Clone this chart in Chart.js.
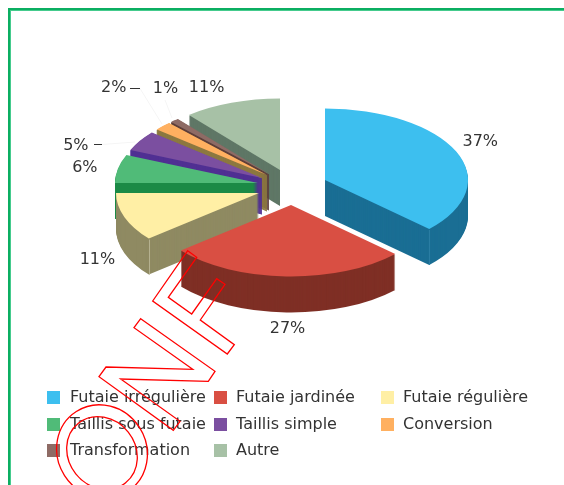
<!DOCTYPE html>
<html><head><meta charset="utf-8">
<style>html,body{margin:0;padding:0;background:#fff}canvas{display:block}</style>
<script src="https://cdn.jsdelivr.net/npm/chart.js@4"></script>
</head><body>
<canvas id="c" width="564" height="485"></canvas>
<script>
const categories = ["Futaie irrégulière","Futaie jardinée","Futaie régulière","Taillis sous futaie","Taillis simple","Conversion","Transformation","Autre"];
const shares = [37,27,11,6.4,4.6,2,1,11];
const topColors = ["#3DBFEF","#D94F43","#FFEFA5","#50BB78","#7B4FA0","#FFB060","#8E6B65","#A7C1A6"];
const sideColors = ["#1A6E94","#7F2F25","#8F8A62","#1B8A46","#503093","#8C7840","#5E3F3A","#5F7766"];
const labelNudges = [[24,-10],[1,52],[-27,43],[-33,-1],[-64,5],[-49,-38],[-9,-32],[-25,-15]];
const legendSwatchColumns = [47,214,381];
const legendTextColumns = [70,236,403];
const legendRows = [397.5,424.5,450.5];
const squash = 0.5, explode = 35.4, depth = 36;
const font = "16px 'DejaVu Sans'";
const ink = "#333333";

function sliceShift(arc){
  const mid = (arc.startAngle+arc.endAngle)/2;
  return [Math.round(arc.x + Math.cos(mid)*explode - 0.1) - arc.x,
          Math.round(arc.y + Math.sin(mid)*explode*squash)];
}
function paintArc(ctx, arc, color, lift, edge){
  const o = arc.options, s = sliceShift(arc);
  ctx.save();
  ctx.translate(s[0], s[1] + lift); ctx.scale(1, squash); ctx.translate(0, -arc.y);
  arc.options = Object.assign({}, o, {backgroundColor: color, borderColor: color, borderWidth: edge});
  arc.draw(ctx);
  arc.options = o;
  ctx.restore();
}
function rimPoint(arc, angle, r){
  const s = sliceShift(arc);
  return [arc.x + s[0] + Math.cos(angle)*r, s[1] + Math.sin(angle)*r*squash];
}
function poly(ctx, pts){
  ctx.beginPath(); pts.forEach((p,i)=> i? ctx.lineTo(p[0],p[1]) : ctx.moveTo(p[0],p[1])); ctx.closePath(); ctx.stroke();
}
const pie3d = {
  id:'pie3d',
  beforeDatasetDraw(chart){
    const ctx = chart.ctx, arcs = chart.getDatasetMeta(0).data;
    for(let i=arcs.length-1;i>=0;i--){
      // very narrow slices get a thin edge so that their walls stay solid near the apex
      const edge = (arcs[i].endAngle-arcs[i].startAngle) < 0.4 ? 1 : 0;
      for(let k=depth;k>=1;k--) paintArc(ctx, arcs[i], sideColors[i], k, edge);
      paintArc(ctx, arcs[i], topColors[i], 0, 0);
    }
    // front corner seams on the two walls that show one
    [[0,'endAngle','#2A7DA3'],[2,'startAngle','#B5B190']].forEach(([i,k,c])=>{
      const p = rimPoint(arcs[i], arcs[i][k], arcs[i].outerRadius);
      ctx.strokeStyle=c; ctx.lineWidth=1; ctx.beginPath();
      const x=Math.round(p[0])+.5; ctx.moveTo(x,p[1]+1); ctx.lineTo(x,p[1]+depth); ctx.stroke();
    });
    return false;
  },
  afterDatasetsDraw(chart){
    const ctx = chart.ctx, arcs = chart.getDatasetMeta(0).data;
    ctx.save();
    // frame
    ctx.fillStyle="#0BAE61"; ctx.fillRect(8,8,556,2); ctx.fillRect(8,8,2,477);
    ctx.fillStyle="#45CB8D"; ctx.fillRect(10,10,554,1); ctx.fillRect(10,10,1,475);
    // faint leaders
    ctx.strokeStyle="#F5F5F5"; ctx.lineWidth=1;
    [[[102,144.5],[135,142]],[[140,88.5],[162,124]],[[165,100],[172,118]]].forEach(l=>{
      ctx.beginPath(); ctx.moveTo(l[0][0],l[0][1]); ctx.lineTo(l[1][0],l[1][1]); ctx.stroke();
    });
    // percent labels
    ctx.font=font; ctx.fillStyle=ink; ctx.textAlign='center'; ctx.textBaseline='middle';
    arcs.forEach((arc,i)=>{
      const mid=(arc.startAngle+arc.endAngle)/2;
      const p=rimPoint(arc,mid,arc.outerRadius);
      ctx.fillText(Math.round(shares[i])+"%", p[0]+labelNudges[i][0], p[1]+labelNudges[i][1]);
    });
    ctx.fillStyle=ink; ctx.fillRect(94,144,8,1); ctx.fillRect(130,88,10,1);
    // legend
    ctx.textAlign='left';
    categories.forEach((name,i)=>{
      const c=i%3, y=legendRows[Math.floor(i/3)];
      ctx.fillStyle=topColors[i]; ctx.fillRect(legendSwatchColumns[c],y-6.5,13,13);
      ctx.fillStyle=ink; ctx.fillText(name,legendTextColumns[c],y+0.5);
    });
    // watermark
    ctx.strokeStyle="#FF0000"; ctx.lineWidth=1.3;
    poly(ctx,[[187.7,250.7],[196.7,257.3],[168.3,297.3],[191.7,314],[216.7,278.7],[225,284.3],[200.3,320],[234.3,344.7],[227.3,354],[152.7,301]]);
    poly(ctx,[[140.7,318.7],[215,371.3],[208.3,381.3],[120.7,379],[180,421.3],[173.3,430.3],[99,376.7],[106,367],[192.7,369.3],[134,327.7]]);
    ctx.beginPath(); ctx.ellipse(102,451.5,47.5,44.5,1.0,0,Math.PI*2); ctx.stroke();
    ctx.beginPath(); ctx.ellipse(102,453,38,33.5,0.9,0,Math.PI*2); ctx.stroke();
    ctx.restore();
  }
};
new Chart(document.getElementById('c'),{
  type:'pie',
  data:{labels:categories,datasets:[{data:shares,backgroundColor:topColors,borderWidth:0}]},
  options:{
    responsive:false,animation:false,radius:143,
    layout:{padding:{left:21,right:0,top:0,bottom:111}},
    plugins:{legend:{display:false},tooltip:{enabled:false},title:{display:false}}
  },
  plugins:[pie3d]
});
</script>
</body></html>
